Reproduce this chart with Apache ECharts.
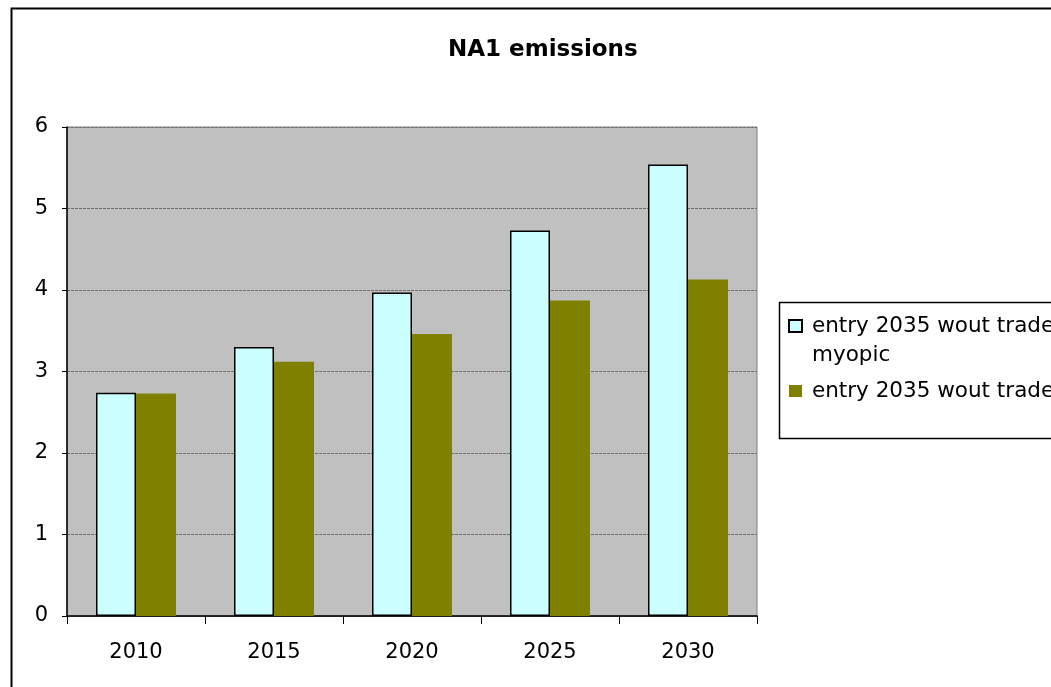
<!DOCTYPE html>
<html>
<head>
<meta charset="utf-8">
<script src="https://cdn.jsdelivr.net/npm/echarts@6/dist/echarts.min.js"></script>
<style>
html,body{margin:0;padding:0;background:#fff;}
#chart{width:1051px;height:687px;}
</style>
</head>
<body>
<div id="chart"></div>
<script>
var titleText = 'NA1 emissions';
var categories = ['2010', '2015', '2020', '2025', '2030'];
var seriesNames = ['entry 2035 wout trade myopic', 'entry 2035 wout trade'];
var myopicValues = [2.74, 3.30, 3.97, 4.73, 5.54];
var tradeValues = [2.73, 3.12, 3.46, 3.87, 4.13];
var yTicks = [0, 1, 2, 3, 4, 5, 6];

var FONT = 'DejaVu Sans';
var chart = echarts.init(document.getElementById('chart'), null, {renderer: 'canvas'});
var option = {
  animation: false,
  backgroundColor: '#ffffff',
  textStyle: {fontFamily: FONT, color: '#000'},
  title: {
    text: titleText,
    left: 448,
    top: 39,
    padding: 0,
    textStyle: {fontFamily: FONT, fontSize: 23, fontWeight: 'bold', color: '#000'}
  },
  graphic: [
    {type: 'rect', silent: true, z: 100,
     shape: {x: 11.5, y: 8.5, width: 1200, height: 800},
     style: {fill: 'none', stroke: '#000', lineWidth: 2}},
    {type: 'rect', silent: true, z: 100,
     shape: {x: 779.5, y: 302.5, width: 400, height: 136},
     style: {fill: 'none', stroke: '#000', lineWidth: 1.5}}
  ],
  legend: {
    orient: 'vertical',
    left: 788,
    top: 282.5,
    padding: 0,
    itemWidth: 13,
    itemHeight: 12,
    itemGap: 7,
    icon: 'rect',
    borderWidth: 0,
    textStyle: {fontFamily: FONT, fontSize: 21.5, color: '#000', lineHeight: 29, padding: [0, 0, 0, 5]},
    formatter: function (name) {
      return name === seriesNames[0] ? '\nentry 2035 wout trade\nmyopic' : name;
    },
    data: [seriesNames[0], seriesNames[1]]
  },
  grid: {
    left: 67, right: 294, top: 127, bottom: 71,
    show: true,
    backgroundColor: '#C0C0C0',
    borderColor: '#808080',
    borderWidth: 1
  },
  xAxis: {
    type: 'category',
    data: categories,
    boundaryGap: true,
    axisLine: {show: true, lineStyle: {color: '#000', width: 1.5}},
    axisTick: {show: true, length: 8, alignWithLabel: false, lineStyle: {color: '#000', width: 1}},
    axisLabel: {margin: 26, fontFamily: FONT, fontSize: 21, color: '#000'},
    splitLine: {show: false}
  },
  yAxis: {
    type: 'value',
    min: yTicks[0],
    max: yTicks[yTicks.length - 1],
    interval: 1,
    axisLine: {show: true, lineStyle: {color: '#000', width: 1.5}},
    axisTick: {show: true, length: 5, lineStyle: {color: '#000', width: 1}},
    axisLabel: {margin: 19, fontFamily: FONT, fontSize: 21, color: '#000'},
    splitLine: {show: true, lineStyle: {color: '#6e6e6e', type: [3, 1], width: 1}}
  },
  series: [
    {
      name: seriesNames[0],
      type: 'bar',
      data: myopicValues,
      barWidth: 40,
      barGap: '0%',
      itemStyle: {color: '#CCFFFF', borderColor: '#000', borderWidth: 1.5}
    },
    {
      name: seriesNames[1],
      type: 'bar',
      data: tradeValues,
      barWidth: 40,
      barGap: '0%',
      itemStyle: {color: '#808000', borderWidth: 0}
    }
  ]
};
chart.setOption(option);
</script>
</body>
</html>
